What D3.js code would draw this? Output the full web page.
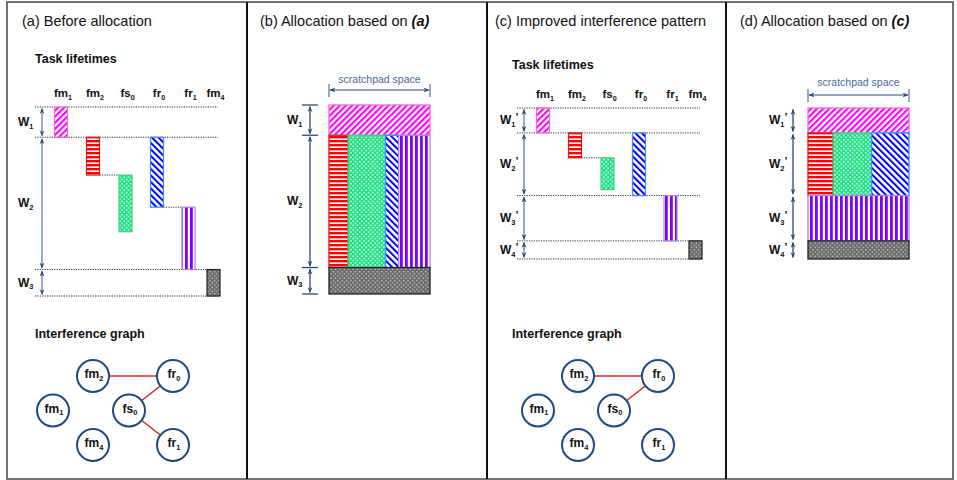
<!DOCTYPE html>
<html><head><meta charset="utf-8">
<script src="https://cdn.jsdelivr.net/npm/d3@7"></script>
<style>body{margin:0;background:#fff} svg{display:block;font-family:"Liberation Sans",Arial,sans-serif}</style>
</head><body><svg id="chart" width="957" height="480"></svg>
<script>
// ---------------- data ----------------
const panelTitles = ["(a) Before allocation", "(b) Allocation based on ", "(c) Improved interference pattern", "(d) Allocation based on "];
const titleRefs = ["", "(a)", "", "(c)"];
const tasks = ["fm1", "fm2", "fs0", "fr0", "fr1", "fm4"];
// task lifetimes, time units 0..100
const startA = [0, 16, 36, 16, 53, 86];
const endA   = [16, 36, 66, 53, 86, 100];
const phasesA = [0, 16, 86, 100];
const phaseLabelsA = ["W1", "W2", "W3"];
const startC = [0, 16.5, 33, 16.5, 58, 88];
const endC   = [16.5, 33, 54, 58, 88, 100];
const phasesC = [0, 16.5, 58, 88, 100];
const phaseLabelsC = ["W1'", "W2'", "W3'", "W4'"];
// allocation: phase index and scratchpad range (0..100) for each task
const allocPhaseB = [0, 1, 1, 1, 1, 2];
const allocFromB  = [0, 0, 19, 56, 69, 0];
const allocToB    = [100, 19, 56, 69, 100, 100];
const allocPhaseD = [0, 1, 1, 1, 2, 3];
const allocFromD  = [0, 0, 25, 63, 0, 0];
const allocToD    = [100, 25, 63, 100, 100, 100];
// interference graph edges
const edgesA = [["fm2", "fr0"], ["fs0", "fr0"], ["fs0", "fr1"]];
const edgesC = [["fm2", "fr0"], ["fs0", "fr0"]];
const subTitles = ["Task lifetimes", "Interference graph"];
const spaceLabel = "scratchpad space";

// ---------------- drawing ----------------
const svg = d3.select("#chart");
const defs = svg.append("defs");
const NAVY = "#2B4A78", ARROWLINE = "#5F7FA8";

function stripe(id, color, size, w, angle) {
  const p = defs.append("pattern").attr("id", id).attr("patternUnits", "userSpaceOnUse")
    .attr("width", size).attr("height", size).attr("patternTransform", `rotate(${angle})`);
  p.append("rect").attr("width", size).attr("height", size).attr("fill", "#fff");
  p.append("rect").attr("width", w).attr("height", size).attr("fill", color);
}
function dots(id, bg, dot, size, r) {
  const p = defs.append("pattern").attr("id", id).attr("patternUnits", "userSpaceOnUse")
    .attr("width", size).attr("height", size);
  p.append("rect").attr("width", size).attr("height", size).attr("fill", bg);
  [[size / 4, size / 4], [size * 3 / 4, size * 3 / 4]].forEach(([x, y]) =>
    p.append("rect").attr("x", x - r).attr("y", y - r).attr("width", 2 * r).attr("height", 2 * r).attr("fill", dot));
}
stripe("pMag", "#FF00FF", 4.3, 2.1, 45);
stripe("pRed", "#FF0000", 4, 2.4, 90);
dots("pGrn", "#10E07C", "#ffffff", 4.4, 0.8);
stripe("pBlu", "#0000FF", 4.6, 2.0, -45);
stripe("pPur", "#8000FF", 5, 2.8, 0);
dots("pGry", "#6a6a6a", "#cfcfcf", 4.4, 0.65);

const taskStyle = {
  fm1: {fill: "url(#pMag)", stroke: "#FF66CC"},
  fm2: {fill: "url(#pRed)", stroke: "#CC2020"},
  fs0: {fill: "url(#pGrn)", stroke: "#40D080"},
  fr0: {fill: "url(#pBlu)", stroke: "#3A8CFF"},
  fr1: {fill: "url(#pPur)", stroke: "#B080E8"},
  fm4: {fill: "url(#pGry)", stroke: "#222222"}
};

defs.append("marker").attr("id", "ah").attr("viewBox", "0 0 10 10").attr("refX", 9).attr("refY", 5)
  .attr("markerWidth", 6).attr("markerHeight", 6).attr("markerUnits", "userSpaceOnUse")
  .attr("orient", "auto-start-reverse")
  .append("path").attr("d", "M0,1 L10,5 L0,9 L3,5 Z").attr("fill", NAVY);

function subLabel(sel, name, size) {
  const m = name.match(/^([A-Za-z]+)(\d)('?)$/);
  sel.append("tspan").text(m[1]);
  sel.append("tspan").attr("font-size", size * 0.62).attr("dy", size * 0.22).text(m[2]);
  if (m[3]) sel.append("tspan").attr("font-size", size * 0.9).attr("dy", -size * 0.5).text("\u2019");
}

// panels frame
const panelEdges = [7, 247, 487, 726, 953];
svg.append("rect").attr("x", panelEdges[0]).attr("y", 2).attr("width", panelEdges[4] - panelEdges[0])
  .attr("height", 477).attr("fill", "none").attr("stroke", "#444").attr("stroke-width", 1.5);
panelEdges.slice(1, 4).forEach(x => svg.append("line").attr("x1", x).attr("x2", x).attr("y1", 2).attr("y2", 479)
  .attr("stroke", "#111").attr("stroke-width", 2));

// titles
const titleX = [22, 260, 495, 740];
panelTitles.forEach((t, i) => {
  const tx = svg.append("text").attr("x", titleX[i]).attr("y", 26).attr("font-size", 14.5).attr("fill", "#111");
  tx.append("tspan").text(t);
  if (titleRefs[i]) tx.append("tspan").attr("font-weight", "bold").attr("font-style", "italic").text(titleRefs[i]);
});

// phase arrows
function phaseArrows(phases, labels, y, ax, lx, lineColor, ticks) {
  const g = svg.append("g");
  for (let i = 0; i < labels.length; i++) {
    const y0 = y(phases[i]), y1 = y(phases[i + 1]);
    g.append("line").attr("x1", ax).attr("x2", ax).attr("y1", y0 + 1.5).attr("y2", y1 - 1.5)
      .attr("stroke", lineColor).attr("stroke-width", 1.3)
      .attr("marker-start", "url(#ah)").attr("marker-end", "url(#ah)");
    const t = g.append("text").attr("x", lx).attr("y", (y0 + y1) / 2 + 4).attr("font-size", 12)
      .attr("font-weight", "bold").attr("fill", "#111");
    subLabel(t, labels[i], 12);
  }
  if (ticks) phases.forEach(p => g.append("line").attr("x1", ax - 8).attr("x2", ax + 8)
    .attr("y1", y(p)).attr("y2", y(p)).attr("stroke", NAVY).attr("stroke-width", 1.3));
}

// lifetimes panel
function lifetimes(dx, titleY, labelY, starts, ends, phases, labels, y) {
  const col = d3.scaleOrdinal().domain(tasks).range([61, 93, 125.5, 157, 188.5, 213.5].map(v => v + dx));
  const bw = 13;
  svg.append("text").attr("x", 35 + dx - (dx ? 5 : 0)).attr("y", titleY).attr("font-size", 12.5)
    .attr("font-weight", "bold").attr("fill", "#111").text(subTitles[0]);
  tasks.forEach(tk => {
    const t = svg.append("text").attr("x", col(tk) + 2).attr("y", labelY).attr("text-anchor", "middle")
      .attr("font-size", 11.5).attr("font-weight", "bold").attr("fill", "#111");
    subLabel(t, tk, 11.5);
  });
  const dotted = g => g.attr("stroke", "#333").attr("stroke-width", 1).attr("stroke-dasharray", "1.2,1.2");
  phases.forEach(p => svg.append("line").attr("x1", 35 + dx).attr("x2", 218 + dx)
    .attr("y1", y(p)).attr("y2", y(p)).call(dotted));
  tasks.forEach((tk, j) => {
    if (phases.includes(starts[j])) return;
    const i = ends.indexOf(starts[j]);
    svg.append("line").attr("x1", col(tasks[i]) + bw / 2).attr("x2", col(tk) - bw / 2)
      .attr("y1", y(starts[j])).attr("y2", y(starts[j])).call(dotted);
  });
  tasks.forEach((tk, j) => {
    svg.append("rect").attr("x", col(tk) - bw / 2).attr("y", y(starts[j])).attr("width", bw)
      .attr("height", y(ends[j]) - y(starts[j])).attr("fill", taskStyle[tk].fill)
      .attr("stroke", taskStyle[tk].stroke).attr("stroke-width", 1.2);
  });
  phaseArrows(phases, labels, y, 42 + dx, 18 + dx, ARROWLINE, false);
}

// interference graph
function graph(dx, edges) {
  svg.append("text").attr("x", 35 + dx - (dx ? 8 : 0)).attr("y", 338).attr("font-size", 12.5)
    .attr("font-weight", "bold").attr("fill", "#111").text(subTitles[1]);
  const grid = {fm1: [0, 1], fm2: [1, 0], fm4: [1, 2], fs0: [1.9, 1], fr0: [3, 0], fr1: [3, 2]};
  const gx = d3.scaleLinear([0, 3], [53 + dx, 173 + dx]);
  const gy = d3.scaleLinear([0, 2], [376, 445]);
  edges.forEach(([a, b]) => svg.append("line").attr("x1", gx(grid[a][0])).attr("y1", gy(grid[a][1]))
    .attr("x2", gx(grid[b][0])).attr("y2", gy(grid[b][1])).attr("stroke", "#D02828").attr("stroke-width", 1.5));
  tasks.forEach(tk => {
    const cx = gx(grid[tk][0]), cy = gy(grid[tk][1]);
    svg.append("circle").attr("cx", cx).attr("cy", cy).attr("r", 16).attr("fill", "#fff")
      .attr("stroke", "#1F4A85").attr("stroke-width", 2);
    const t = svg.append("text").attr("x", cx + 1).attr("y", cy + 2).attr("text-anchor", "middle")
      .attr("font-size", 12).attr("font-weight", "bold").attr("fill", "#111");
    subLabel(t, tk, 12);
  });
}

// allocation panel
function allocation(x, y, phases, labels, phaseIdx, from, to, ax, lx, arrowY, textY, ticks) {
  const g = svg.append("g");
  g.append("text").attr("x", (x(0) + x(100)) / 2).attr("y", textY).attr("text-anchor", "middle")
    .attr("font-size", 10.5).attr("fill", "#4A6A96").text(spaceLabel);
  g.append("line").attr("x1", x(0) + 1).attr("x2", x(100) - 1).attr("y1", arrowY).attr("y2", arrowY)
    .attr("stroke", NAVY).attr("stroke-width", 1.2).attr("marker-start", "url(#ah)").attr("marker-end", "url(#ah)");
  [0, 100].forEach(v => g.append("line").attr("x1", x(v)).attr("x2", x(v)).attr("y1", arrowY - 6)
    .attr("y2", arrowY + 7).attr("stroke", "#5F7FA8").attr("stroke-width", 1.3));
  tasks.forEach((tk, j) => {
    const p = phaseIdx[j];
    g.append("rect").attr("x", x(from[j])).attr("y", y(phases[p])).attr("width", x(to[j]) - x(from[j]))
      .attr("height", y(phases[p + 1]) - y(phases[p])).attr("fill", taskStyle[tk].fill)
      .attr("stroke", taskStyle[tk].stroke).attr("stroke-width", 1.3);
  });
  phaseArrows(phases, labels, y, ax, lx, NAVY, ticks);
}

const yA = d3.scaleLinear([0, 100], [107, 296]);
const yC = d3.scaleLinear([0, 100], [108, 259]);
lifetimes(0, 63, 97, startA, endA, phasesA, phaseLabelsA, yA);
lifetimes(482, 69, 98, startC, endC, phasesC, phaseLabelsC, yC);
graph(0, edgesA);
graph(485, edgesC);
allocation(d3.scaleLinear([0, 100], [329, 430]), d3.scaleLinear([0, 100], [105, 294]), phasesA, phaseLabelsA,
  allocPhaseB, allocFromB, allocToB, 310, 287, 90, 83, true);
allocation(d3.scaleLinear([0, 100], [808, 909]), yC, phasesC, phaseLabelsC,
  allocPhaseD, allocFromD, allocToD, 793, 769, 95, 86, false);
</script></body></html>
